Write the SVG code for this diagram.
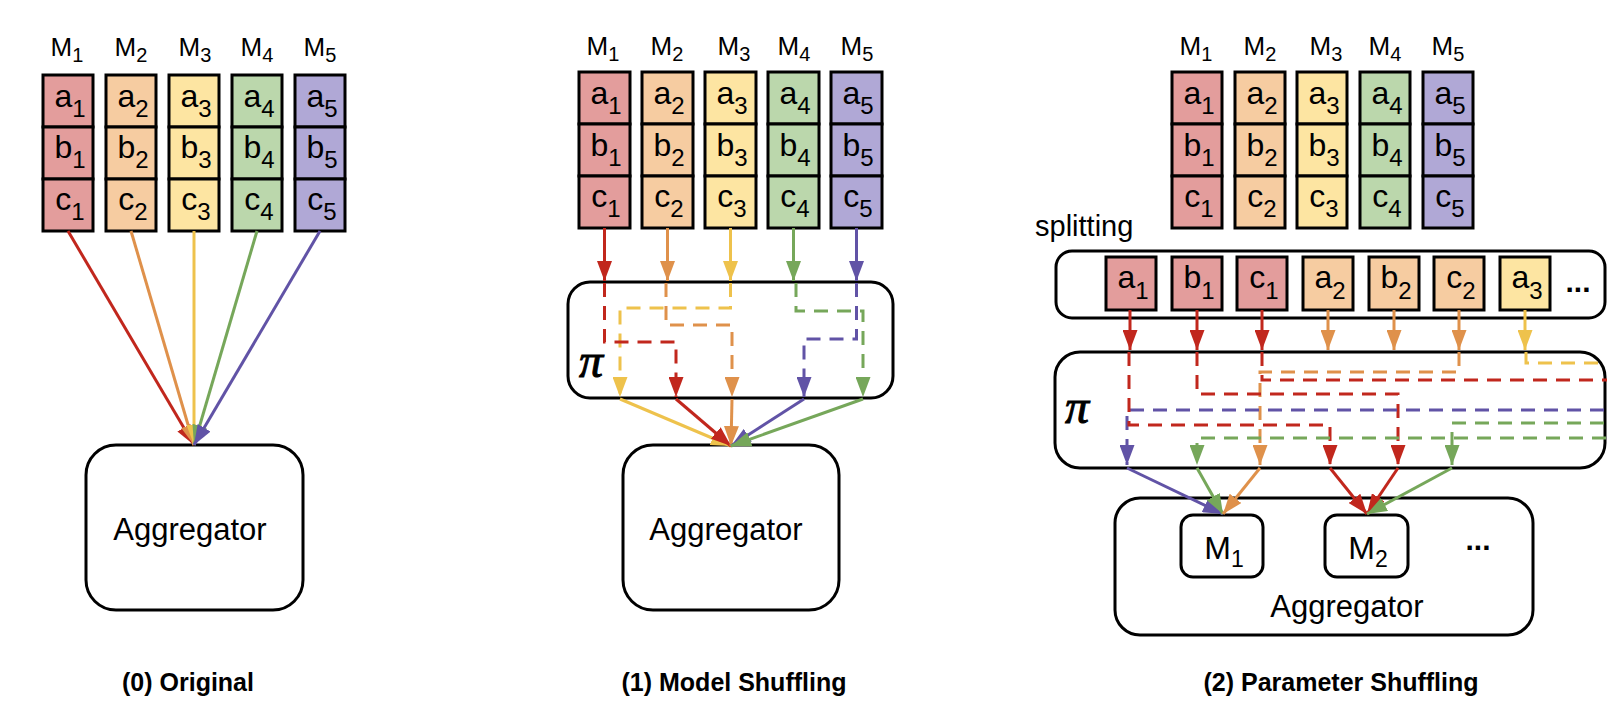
<svg xmlns="http://www.w3.org/2000/svg" width="1624" height="724" viewBox="0 0 1624 724">
<style>
text{font-family:"Liberation Sans",Arial,sans-serif;fill:#000}
.cell{font-size:32px;text-anchor:middle}
.csub{font-size:24px}
.lbl{font-size:26px;text-anchor:middle}
.lsub{font-size:20px}
.agg{font-size:31px;text-anchor:middle}
.cap{font-size:25px;font-weight:bold;text-anchor:middle}
.pi{font-family:"Liberation Serif","Times New Roman",serif;font-style:italic;font-size:48px;stroke:#000;stroke-width:1}
.dots{font-size:30px;font-weight:bold;text-anchor:middle}
.box{fill:#fff;stroke:#000;stroke-width:3}
.c{stroke:#000;stroke-width:3}
.fr{fill:#e39d9c}.fo{fill:#f6cca1}.fy{fill:#fde5a2}.fg{fill:#bbd7ac}.fp{fill:#b0a8d6}
.ln{fill:none;stroke-width:3}
.d{stroke-dasharray:14 9}
.r{stroke:#c1271d}.o{stroke:#df914b}.y{stroke:#eec24c}.g{stroke:#76a75a}.p{stroke:#6153a6}
.ar{marker-end:url(#ar)}.ao{marker-end:url(#ao)}.ay{marker-end:url(#ay)}.ag{marker-end:url(#ag)}.ap{marker-end:url(#ap)}
</style>
<defs>
<marker id="ar" markerUnits="userSpaceOnUse" markerWidth="20" markerHeight="15" viewBox="0 0 20 15" refX="20" refY="7.5" orient="auto"><path d="M0,0 L20,7.5 L0,15 z" fill="#c1271d"/></marker>
<marker id="ao" markerUnits="userSpaceOnUse" markerWidth="20" markerHeight="15" viewBox="0 0 20 15" refX="20" refY="7.5" orient="auto"><path d="M0,0 L20,7.5 L0,15 z" fill="#df914b"/></marker>
<marker id="ay" markerUnits="userSpaceOnUse" markerWidth="20" markerHeight="15" viewBox="0 0 20 15" refX="20" refY="7.5" orient="auto"><path d="M0,0 L20,7.5 L0,15 z" fill="#eec24c"/></marker>
<marker id="ag" markerUnits="userSpaceOnUse" markerWidth="20" markerHeight="15" viewBox="0 0 20 15" refX="20" refY="7.5" orient="auto"><path d="M0,0 L20,7.5 L0,15 z" fill="#76a75a"/></marker>
<marker id="ap" markerUnits="userSpaceOnUse" markerWidth="20" markerHeight="15" viewBox="0 0 20 15" refX="20" refY="7.5" orient="auto"><path d="M0,0 L20,7.5 L0,15 z" fill="#6153a6"/></marker>
</defs>
<rect width="1624" height="724" fill="#fff"/>

<!-- Panel 0 -->
<g id="p0-M1">
<text class="lbl" x="67" y="56">M<tspan class="lsub" dy="6">1</tspan></text>
<rect class="c fr" x="43" y="75" width="50" height="52"/><rect class="c fr" x="43" y="127" width="50" height="52"/><rect class="c fr" x="43" y="179" width="50" height="52"/>
<text class="cell" x="70" y="107">a<tspan class="csub" dy="10">1</tspan></text>
<text class="cell" x="70" y="158">b<tspan class="csub" dy="10">1</tspan></text>
<text class="cell" x="70" y="210">c<tspan class="csub" dy="10">1</tspan></text>
</g>
<g id="p0-M2">
<text class="lbl" x="131" y="56">M<tspan class="lsub" dy="6">2</tspan></text>
<rect class="c fo" x="106" y="75" width="50" height="52"/><rect class="c fo" x="106" y="127" width="50" height="52"/><rect class="c fo" x="106" y="179" width="50" height="52"/>
<text class="cell" x="133" y="107">a<tspan class="csub" dy="10">2</tspan></text>
<text class="cell" x="133" y="158">b<tspan class="csub" dy="10">2</tspan></text>
<text class="cell" x="133" y="210">c<tspan class="csub" dy="10">2</tspan></text>
</g>
<g id="p0-M3">
<text class="lbl" x="195" y="56">M<tspan class="lsub" dy="6">3</tspan></text>
<rect class="c fy" x="169" y="75" width="50" height="52"/><rect class="c fy" x="169" y="127" width="50" height="52"/><rect class="c fy" x="169" y="179" width="50" height="52"/>
<text class="cell" x="196" y="107">a<tspan class="csub" dy="10">3</tspan></text>
<text class="cell" x="196" y="158">b<tspan class="csub" dy="10">3</tspan></text>
<text class="cell" x="196" y="210">c<tspan class="csub" dy="10">3</tspan></text>
</g>
<g id="p0-M4">
<text class="lbl" x="257" y="56">M<tspan class="lsub" dy="6">4</tspan></text>
<rect class="c fg" x="232" y="75" width="50" height="52"/><rect class="c fg" x="232" y="127" width="50" height="52"/><rect class="c fg" x="232" y="179" width="50" height="52"/>
<text class="cell" x="259" y="107">a<tspan class="csub" dy="10">4</tspan></text>
<text class="cell" x="259" y="158">b<tspan class="csub" dy="10">4</tspan></text>
<text class="cell" x="259" y="210">c<tspan class="csub" dy="10">4</tspan></text>
</g>
<g id="p0-M5">
<text class="lbl" x="320" y="56">M<tspan class="lsub" dy="6">5</tspan></text>
<rect class="c fp" x="295" y="75" width="50" height="52"/><rect class="c fp" x="295" y="127" width="50" height="52"/><rect class="c fp" x="295" y="179" width="50" height="52"/>
<text class="cell" x="322" y="107">a<tspan class="csub" dy="10">5</tspan></text>
<text class="cell" x="322" y="158">b<tspan class="csub" dy="10">5</tspan></text>
<text class="cell" x="322" y="210">c<tspan class="csub" dy="10">5</tspan></text>
</g>
<g id="p0-aggregator">
<rect class="box" x="86" y="445" width="217" height="165" rx="30"/>
<text class="agg" x="190" y="540">Aggregator</text>
</g>
<text class="cap" x="188" y="691">(0) Original</text>

<!-- Panel 1 -->
<g id="p1-M1">
<text class="lbl" x="603" y="55">M<tspan class="lsub" dy="6">1</tspan></text>
<rect class="c fr" x="579" y="72" width="51" height="52"/><rect class="c fr" x="579" y="124" width="51" height="52"/><rect class="c fr" x="579" y="176" width="51" height="52"/>
<text class="cell" x="606" y="104">a<tspan class="csub" dy="10">1</tspan></text>
<text class="cell" x="606" y="156">b<tspan class="csub" dy="10">1</tspan></text>
<text class="cell" x="606" y="207">c<tspan class="csub" dy="10">1</tspan></text>
</g>
<g id="p1-M2">
<text class="lbl" x="667" y="55">M<tspan class="lsub" dy="6">2</tspan></text>
<rect class="c fo" x="642" y="72" width="51" height="52"/><rect class="c fo" x="642" y="124" width="51" height="52"/><rect class="c fo" x="642" y="176" width="51" height="52"/>
<text class="cell" x="669" y="104">a<tspan class="csub" dy="10">2</tspan></text>
<text class="cell" x="669" y="156">b<tspan class="csub" dy="10">2</tspan></text>
<text class="cell" x="669" y="207">c<tspan class="csub" dy="10">2</tspan></text>
</g>
<g id="p1-M3">
<text class="lbl" x="734" y="55">M<tspan class="lsub" dy="6">3</tspan></text>
<rect class="c fy" x="705" y="72" width="51" height="52"/><rect class="c fy" x="705" y="124" width="51" height="52"/><rect class="c fy" x="705" y="176" width="51" height="52"/>
<text class="cell" x="732" y="104">a<tspan class="csub" dy="10">3</tspan></text>
<text class="cell" x="732" y="156">b<tspan class="csub" dy="10">3</tspan></text>
<text class="cell" x="732" y="207">c<tspan class="csub" dy="10">3</tspan></text>
</g>
<g id="p1-M4">
<text class="lbl" x="794" y="55">M<tspan class="lsub" dy="6">4</tspan></text>
<rect class="c fg" x="768" y="72" width="51" height="52"/><rect class="c fg" x="768" y="124" width="51" height="52"/><rect class="c fg" x="768" y="176" width="51" height="52"/>
<text class="cell" x="795" y="104">a<tspan class="csub" dy="10">4</tspan></text>
<text class="cell" x="795" y="156">b<tspan class="csub" dy="10">4</tspan></text>
<text class="cell" x="795" y="207">c<tspan class="csub" dy="10">4</tspan></text>
</g>
<g id="p1-M5">
<text class="lbl" x="857" y="55">M<tspan class="lsub" dy="6">5</tspan></text>
<rect class="c fp" x="831" y="72" width="51" height="52"/><rect class="c fp" x="831" y="124" width="51" height="52"/><rect class="c fp" x="831" y="176" width="51" height="52"/>
<text class="cell" x="858" y="104">a<tspan class="csub" dy="10">5</tspan></text>
<text class="cell" x="858" y="156">b<tspan class="csub" dy="10">5</tspan></text>
<text class="cell" x="858" y="207">c<tspan class="csub" dy="10">5</tspan></text>
</g>
<g id="p1-pi">
<rect class="box" x="568" y="282" width="325" height="116" rx="22"/>
<text class="pi" x="579" y="377">π</text>
</g>
<g id="p1-aggregator">
<rect class="box" x="623" y="445" width="216" height="165" rx="30"/>
<text class="agg" x="726" y="540">Aggregator</text>
</g>
<text class="cap" x="734" y="691">(1) Model Shuffling</text>

<!-- Panel 2 -->
<g id="p2-M1">
<text class="lbl" x="1196" y="55">M<tspan class="lsub" dy="6">1</tspan></text>
<rect class="c fr" x="1172" y="72" width="50" height="52"/><rect class="c fr" x="1172" y="124" width="50" height="52"/><rect class="c fr" x="1172" y="176" width="50" height="52"/>
<text class="cell" x="1199" y="104">a<tspan class="csub" dy="10">1</tspan></text>
<text class="cell" x="1199" y="156">b<tspan class="csub" dy="10">1</tspan></text>
<text class="cell" x="1199" y="207">c<tspan class="csub" dy="10">1</tspan></text>
</g>
<g id="p2-M2">
<text class="lbl" x="1260" y="55">M<tspan class="lsub" dy="6">2</tspan></text>
<rect class="c fo" x="1235" y="72" width="50" height="52"/><rect class="c fo" x="1235" y="124" width="50" height="52"/><rect class="c fo" x="1235" y="176" width="50" height="52"/>
<text class="cell" x="1262" y="104">a<tspan class="csub" dy="10">2</tspan></text>
<text class="cell" x="1262" y="156">b<tspan class="csub" dy="10">2</tspan></text>
<text class="cell" x="1262" y="207">c<tspan class="csub" dy="10">2</tspan></text>
</g>
<g id="p2-M3">
<text class="lbl" x="1326" y="55">M<tspan class="lsub" dy="6">3</tspan></text>
<rect class="c fy" x="1297" y="72" width="50" height="52"/><rect class="c fy" x="1297" y="124" width="50" height="52"/><rect class="c fy" x="1297" y="176" width="50" height="52"/>
<text class="cell" x="1324" y="104">a<tspan class="csub" dy="10">3</tspan></text>
<text class="cell" x="1324" y="156">b<tspan class="csub" dy="10">3</tspan></text>
<text class="cell" x="1324" y="207">c<tspan class="csub" dy="10">3</tspan></text>
</g>
<g id="p2-M4">
<text class="lbl" x="1385" y="55">M<tspan class="lsub" dy="6">4</tspan></text>
<rect class="c fg" x="1360" y="72" width="50" height="52"/><rect class="c fg" x="1360" y="124" width="50" height="52"/><rect class="c fg" x="1360" y="176" width="50" height="52"/>
<text class="cell" x="1387" y="104">a<tspan class="csub" dy="10">4</tspan></text>
<text class="cell" x="1387" y="156">b<tspan class="csub" dy="10">4</tspan></text>
<text class="cell" x="1387" y="207">c<tspan class="csub" dy="10">4</tspan></text>
</g>
<g id="p2-M5">
<text class="lbl" x="1448" y="55">M<tspan class="lsub" dy="6">5</tspan></text>
<rect class="c fp" x="1423" y="72" width="50" height="52"/><rect class="c fp" x="1423" y="124" width="50" height="52"/><rect class="c fp" x="1423" y="176" width="50" height="52"/>
<text class="cell" x="1450" y="104">a<tspan class="csub" dy="10">5</tspan></text>
<text class="cell" x="1450" y="156">b<tspan class="csub" dy="10">5</tspan></text>
<text class="cell" x="1450" y="207">c<tspan class="csub" dy="10">5</tspan></text>
</g>
<g id="p2-splitting">
<text x="1035" y="236" style="font-size:29px">splitting</text>
<rect class="box" x="1056" y="251" width="549" height="67" rx="16"/>
<rect class="c fr" x="1106" y="257" width="50" height="53"/><text class="cell" x="1133" y="288">a<tspan class="csub" dy="11">1</tspan></text>
<rect class="c fr" x="1172" y="257" width="50" height="53"/><text class="cell" x="1199" y="288">b<tspan class="csub" dy="11">1</tspan></text>
<rect class="c fr" x="1237" y="257" width="50" height="53"/><text class="cell" x="1264" y="288">c<tspan class="csub" dy="11">1</tspan></text>
<rect class="c fo" x="1303" y="257" width="50" height="53"/><text class="cell" x="1330" y="288">a<tspan class="csub" dy="11">2</tspan></text>
<rect class="c fo" x="1369" y="257" width="50" height="53"/><text class="cell" x="1396" y="288">b<tspan class="csub" dy="11">2</tspan></text>
<rect class="c fo" x="1434" y="257" width="50" height="53"/><text class="cell" x="1461" y="288">c<tspan class="csub" dy="11">2</tspan></text>
<rect class="c fy" x="1500" y="257" width="50" height="53"/><text class="cell" x="1527" y="288">a<tspan class="csub" dy="11">3</tspan></text>
<text class="dots" x="1578" y="292">...</text>
</g>
<g id="p2-pi">
<rect class="box" x="1055" y="352" width="550" height="116" rx="25"/>
<text class="pi" x="1065" y="423">π</text>
</g>
<g id="p2-aggregator">
<rect class="box" x="1115" y="498" width="418" height="137" rx="25"/>
<text class="agg" x="1347" y="617">Aggregator</text>
<text class="dots" x="1478" y="550">...</text>
</g>
<g id="p2-agg-M1">
<rect class="box" x="1181" y="515" width="82" height="62" rx="12"/>
<text style="font-size:32px;text-anchor:middle" x="1224" y="559">M<tspan style="font-size:23px" dy="8">1</tspan></text>
</g>
<g id="p2-agg-M2">
<rect class="box" x="1325" y="515" width="83" height="62" rx="12"/>
<text style="font-size:32px;text-anchor:middle" x="1368" y="559">M<tspan style="font-size:23px" dy="8">2</tspan></text>
</g>
<text class="cap" x="1341" y="691">(2) Parameter Shuffling</text>

<g id="connectors">
<!-- panel 0 -->
<path class="ln r ar" d="M68,231 L194,445"/>
<path class="ln o ao" d="M131,231 L194,445"/>
<path class="ln y ay" d="M194,231 L194,445"/>
<path class="ln g ag" d="M257,231 L194,445"/>
<path class="ln p ap" d="M320,231 L194,445"/>
<!-- panel 1 top -->
<path class="ln r ar" d="M604.5,228 V281"/>
<path class="ln o ao" d="M667.5,228 V281"/>
<path class="ln y ay" d="M730.5,228 V281"/>
<path class="ln g ag" d="M793.5,228 V281"/>
<path class="ln p ap" d="M856.5,228 V281"/>
<!-- panel 1 shuffling -->
<path class="ln d y ay" d="M730.5,283 V308 H620 V397"/>
<path class="ln d o ao" d="M666,283 V325 H732 V397"/>
<path class="ln d r ar" d="M604.5,283 V342 H676 V397"/>
<path class="ln d g ag" d="M796,283 V311 H863 V397"/>
<path class="ln d p ap" d="M856.5,283 V339 H804 V397"/>
<!-- panel 1 to aggregator -->
<path class="ln y ay" d="M620,399 L731,446"/>
<path class="ln r ar" d="M676,399 L731,446"/>
<path class="ln o ao" d="M732,399 L731,446"/>
<path class="ln p ap" d="M804,399 L731,446"/>
<path class="ln g ag" d="M863,399 L731,446"/>
<!-- panel 2 top -->
<path class="ln r ar" d="M1130,310 V350"/>
<path class="ln r ar" d="M1197,310 V350"/>
<path class="ln r ar" d="M1262,310 V350"/>
<path class="ln o ao" d="M1328,310 V350"/>
<path class="ln o ao" d="M1394,310 V350"/>
<path class="ln o ao" d="M1459,310 V350"/>
<path class="ln y ay" d="M1525,310 V350"/>
<!-- panel 2 shuffling -->
<path class="ln d y" d="M1526,352 V363 H1598"/>
<path class="ln d o ao" d="M1459,352 V372 H1260 V465"/>
<path class="ln d r" d="M1262,352 V380 H1607"/>
<path class="ln d r ar" d="M1197,352 V394 H1398 V465"/>
<path class="ln d p ap" d="M1604,410 H1127 V465"/>
<path class="ln d r ar" d="M1129,352 V425 H1330 V465"/>
<path class="ln d g ag" d="M1604,423 H1452 V465"/>
<path class="ln d g ag" d="M1606,438 H1197 V465"/>
<!-- panel 2 to aggregator -->
<path class="ln p ap" d="M1127,468 L1223,514"/>
<path class="ln g ag" d="M1197,468 L1223,514"/>
<path class="ln o ao" d="M1260,468 L1223,514"/>
<path class="ln r ar" d="M1330,468 L1367,514"/>
<path class="ln r ar" d="M1398,468 L1367,514"/>
<path class="ln g ag" d="M1452,468 L1367,514"/>
</g>
</svg>
